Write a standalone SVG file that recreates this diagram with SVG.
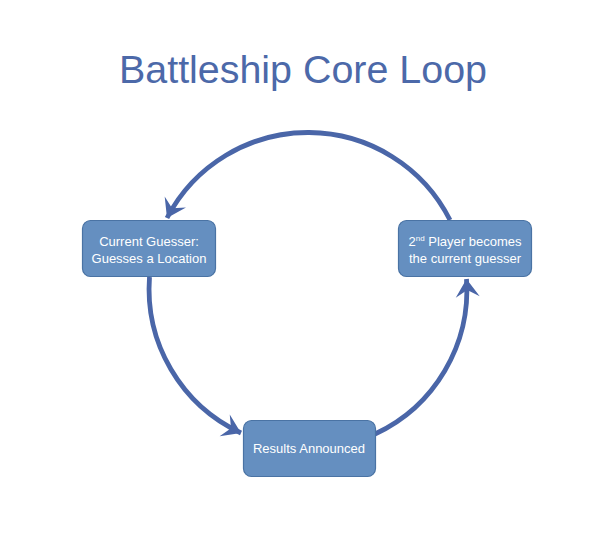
<svg xmlns="http://www.w3.org/2000/svg" width="610" height="554" viewBox="0 0 610 554">
<style>
.box{fill:#658fc0;stroke:#4a73a4;stroke-width:1.2}
.lbl{font-family:"Liberation Sans",Arial,sans-serif;font-size:13px;fill:#ffffff;text-anchor:middle}
.arc{fill:none;stroke:#4a66a8;stroke-width:4.8}
.title{font-family:"Liberation Sans",Arial,sans-serif;font-size:38px;fill:#4c69a9}
</style>
<defs>
<marker id="ah" markerUnits="userSpaceOnUse" markerWidth="30" markerHeight="30" viewBox="-20 -15 24 30" refX="0" refY="0" orient="auto">
<path d="M0,0 L-18,-12 L-11,0 L-18,12 Z" fill="#4a66a8"/>
</marker>
</defs>
<rect width="610" height="554" fill="#ffffff"/>
<text class="title" x="119" y="83" textLength="368" lengthAdjust="spacingAndGlyphs">Battleship Core Loop</text>
<g id="connectors">
<path class="arc" d="M450,220 A159,159 0 0,0 167,218" marker-end="url(#ah)"/>
<path class="arc" d="M149.5,277 A159,159 0 0,0 241,433" marker-end="url(#ah)"/>
<path class="arc" d="M375,434 A159,159 0 0,0 466.5,279" marker-end="url(#ah)"/>
</g>
<g id="node-guesser">
<rect class="box" x="82.5" y="220.5" width="133" height="56" rx="8"/>
<text class="lbl" x="149" y="246">Current Guesser:</text>
<text class="lbl" x="149" y="263">Guesses a Location</text>
</g>
<g id="node-second">
<rect class="box" x="398.5" y="220.5" width="133" height="56" rx="8"/>
<text class="lbl" x="465" y="246">2<tspan font-size="8" dy="-5">nd</tspan><tspan dy="5"> Player becomes</tspan></text>
<text class="lbl" x="465" y="263">the current guesser</text>
</g>
<g id="node-results">
<rect class="box" x="243.5" y="420.5" width="132" height="56" rx="8"/>
<text class="lbl" x="309" y="453">Results Announced</text>
</g>
</svg>
